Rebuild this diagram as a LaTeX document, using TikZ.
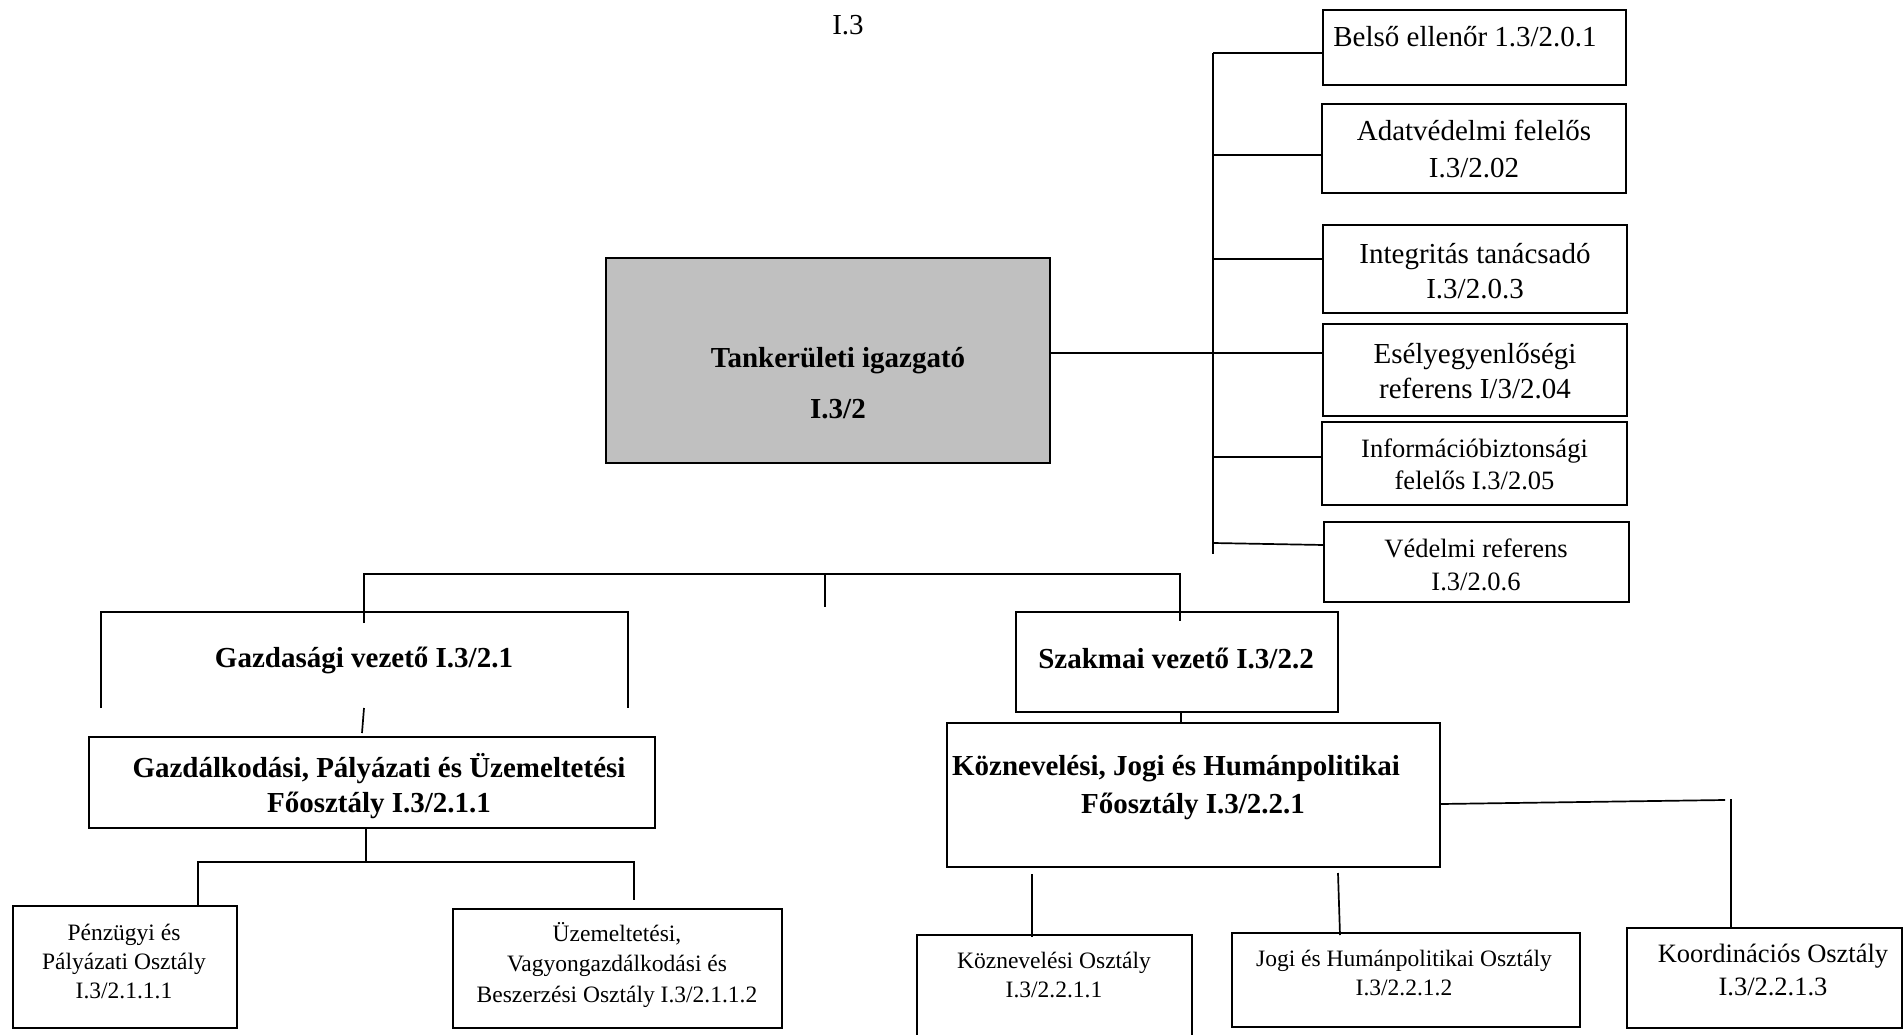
\documentclass[tikz,border=0pt]{standalone}
\usepackage{fontspec}
\setmainfont{Liberation Serif}
\definecolor{dirgray}{RGB}{192,192,192}
\tikzset{
  box/.style={draw, line width=2pt, inner sep=0pt},
  conn/.style={line width=1.7pt},
  txt/.style={align=center, inner sep=0pt},
  fA/.style={font=\fontsize{29}{36}\selectfont},
  fAb/.style={font=\fontsize{29}{36}\selectfont\bfseries},
  fB/.style={font=\fontsize{26.5}{33}\selectfont},
  fC/.style={font=\fontsize{23.5}{31}\selectfont},
}
\newcommand{\bx}[6]{% name, x1, y1, x2, y2, extra
  \node[box, minimum width={(#4-#2)*1pt}, minimum height={(#5-#3)*1pt}, #6] (#1) at ({(#2+#4)/2},{(#3+#5)/2}) {};}
\begin{document}
\begin{tikzpicture}[x=1pt, y=-1pt]
\useasboundingbox (0,0) rectangle (1903,1035);

% boxes
\bx{belso}{1323}{10}{1626}{85}{}
\bx{adat}{1322}{104}{1626}{193}{}
\bx{integ}{1323}{225}{1627}{313}{}
\bx{esely}{1323}{324}{1627}{416}{}
\bx{info}{1322}{422}{1627}{505}{}
\bx{vedelmi}{1324}{522}{1629}{602}{}
\bx{dir}{606}{258}{1050}{463}{fill=dirgray}
\bx{gazdalk}{89}{737}{655}{828}{}
\bx{penz}{13}{906}{237}{1028}{}
\bx{uzem}{453}{909}{782}{1028}{}
\bx{szakmai}{1016}{612}{1338}{712}{}
\bx{koznev}{947}{723}{1440}{867}{}
\bx{koznevo}{917}{935}{1192}{1050}{}
\bx{jogi}{1232}{933}{1580}{1027}{}
\bx{koord}{1627}{928}{1902}{1028}{}

% texts
\node[txt, fA] (title) at (848,25) {I.3};
\node[txt, fA] (tbelso) at (1465,37) {Belső ellenőr 1.3/2.0.1};
\node[txt, font=\fontsize{29}{37}\selectfont] (tadat) at (1474,149) {Adatvédelmi felelős\\I.3/2.02};
\node[txt, font=\fontsize{29}{35}\selectfont] (tinteg) at (1475,271) {Integritás tanácsadó\\I.3/2.0.3};
\node[txt, font=\fontsize{29}{35}\selectfont] (tesely) at (1475,371) {Esélyegyenlőségi\\referens I/3/2.04};
\node[txt, font=\fontsize{26.5}{32}\selectfont] (tinfo) at (1474.5,464) {Információbiztonsági\\felelős I.3/2.05};
\node[txt, font=\fontsize{26.5}{33}\selectfont] (tvedelmi) at (1476,565) {Védelmi referens\\I.3/2.0.6};
\node[txt, font=\fontsize{29}{51}\selectfont\bfseries] (tdir) at (838,383) {Tankerületi igazgató\\I.3/2};
\node[txt, fAb] (gzv) at (364,660) {Gazdasági vezető I.3/2.1};
\node[txt, font=\fontsize{29}{35}\selectfont\bfseries] (tgazdalk) at (379,786) {Gazdálkodási, Pályázati és Üzemeltetési\\Főosztály I.3/2.1.1};
\node[txt, font=\fontsize{23.5}{29}\selectfont] (tpenz) at (124,961) {Pénzügyi és\\Pályázati Osztály\\I.3/2.1.1.1};
\node[txt, font=\fontsize{23.5}{30.5}\selectfont] (tuzem) at (617,965) {Üzemeltetési,\\Vagyongazdálkodási és\\Beszerzési Osztály I.3/2.1.1.2};
\node[txt, fAb] (tszakmai) at (1176,658) {Szakmai vezető I.3/2.2};
\node[txt, font=\fontsize{29}{38}\selectfont\bfseries] (tkoznev) at (1176,788) {Köznevelési, Jogi és Humánpolitikai\\\hspace*{34pt}Főosztály I.3/2.2.1};
\node[txt, font=\fontsize{23.5}{29}\selectfont] (tkoznevo) at (1054,975) {Köznevelési Osztály\\I.3/2.2.1.1};
\node[txt, font=\fontsize{23.5}{29}\selectfont] (tjogi) at (1404,973) {Jogi és Humánpolitikai Osztály\\I.3/2.2.1.2};
\node[txt, font=\fontsize{26.5}{33}\selectfont] (tkoord) at (1773,970) {Koordinációs Osztály\\I.3/2.2.1.3};

% right bus
\coordinate (bustop) at (1213,53);
\coordinate (busbot) at (1213,554);
\coordinate (t2) at (1213,155);
\coordinate (t3) at (1213,259);
\coordinate (t4) at (1213,353);
\coordinate (t5) at (1213,457);
\coordinate (t6) at (1213,543);
\draw[conn] (bustop) -- (busbot);
\draw[conn] (bustop) -- (bustop -| belso.west);
\draw[conn] (t2) -- (t2 -| adat.west);
\draw[conn] (t3) -- (t3 -| integ.west);
\draw[conn] (t4 -| dir.east) -- (t4 -| esely.west);
\draw[conn] (t5) -- (t5 -| info.west);
\draw[conn] (t6) -- (1324,545);

% lower tree
\coordinate (hl) at (364,574);
\coordinate (hc) at (825,574);
\coordinate (hr) at (1180,574);
\draw[conn] (364,623) -- (hl) -- (hr) -- (1180,621);
\draw[conn] (hc) -- (825,607);

% Gazdasagi vezeto bracket
\coordinate (gbl) at (101,708);
\coordinate (gbr) at (628,708);
\draw[conn] (gbl) -- (101,612) -- (628,612) -- (gbr);
\draw[conn] (364,708) -- (362,733);

% below Gazdalkodasi
\coordinate (gj) at (366,862);
\draw[conn] (gazdalk.south -| gj) -- (gj);
\draw[conn] (198,906) -- (198,862) -- (634,862) -- (634,900);

% Szakmai -> Koznevelesi
\draw[conn] (szakmai.south -| 1181,0) -- (koznev.north -| 1181,0);
\coordinate (kr) at (1731,799);
\draw[conn] (koznev.east |- 0,804) -- (1725,800);
\draw[conn] (kr) -- (kr |- koord.north);
\draw[conn] (1032,874) -- (1032,937);
\draw[conn] (1338,873) -- (1340,935);
\end{tikzpicture}
\end{document}
